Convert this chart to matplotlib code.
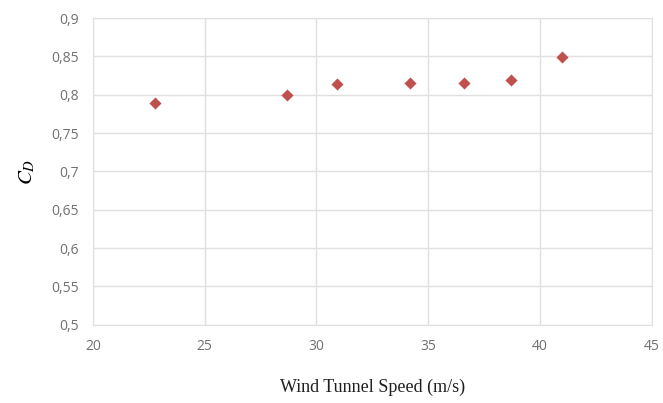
import numpy as np
import matplotlib.pyplot as plt

plt.rcParams['mathtext.fontset'] = 'stix'

# Valeurs
speed = [22.8, 28.7, 30.9, 34.2, 36.6, 38.7, 41.0]
cd = [0.789, 0.800, 0.814, 0.815, 0.816, 0.819, 0.849]

x_ticks = [20, 25, 30, 35, 40, 45]
y_ticks = [0.5, 0.55, 0.6, 0.65, 0.7, 0.75, 0.8, 0.85, 0.9]

fig = plt.figure(figsize=(6.63, 4.03), dpi=100)
ax = fig.add_axes([0.14, 0.194, 0.843, 0.761])

ax.scatter(speed, cd, marker='D', s=38, color='#C0504D', zorder=3, linewidths=0)

ax.set_xlim(20, 45)
ax.set_ylim(0.5, 0.9)
ax.set_xticks(x_ticks)
ax.set_yticks(y_ticks)
ax.set_xticklabels([str(t) for t in x_ticks])
ax.set_yticklabels([f"{t:g}".replace('.', ',') for t in y_ticks])

ax.grid(True, color='#E0E0E0', linewidth=1)
ax.set_axisbelow(True)
for s in ax.spines.values():
    s.set_color('#E0E0E0')
ax.tick_params(length=0, labelsize=10, labelcolor='#707070', pad=10)
for lab in ax.get_xticklabels() + ax.get_yticklabels():
    lab.set_family('Open Sans')

ax.set_xlabel('Wind Tunnel Speed (m/s)', family='Liberation Serif', fontsize=13,
              color='#202020', labelpad=18)
ax.set_ylabel(r'$C_D$', fontsize=15, labelpad=10)

fig.savefig('out.png', dpi=100)
